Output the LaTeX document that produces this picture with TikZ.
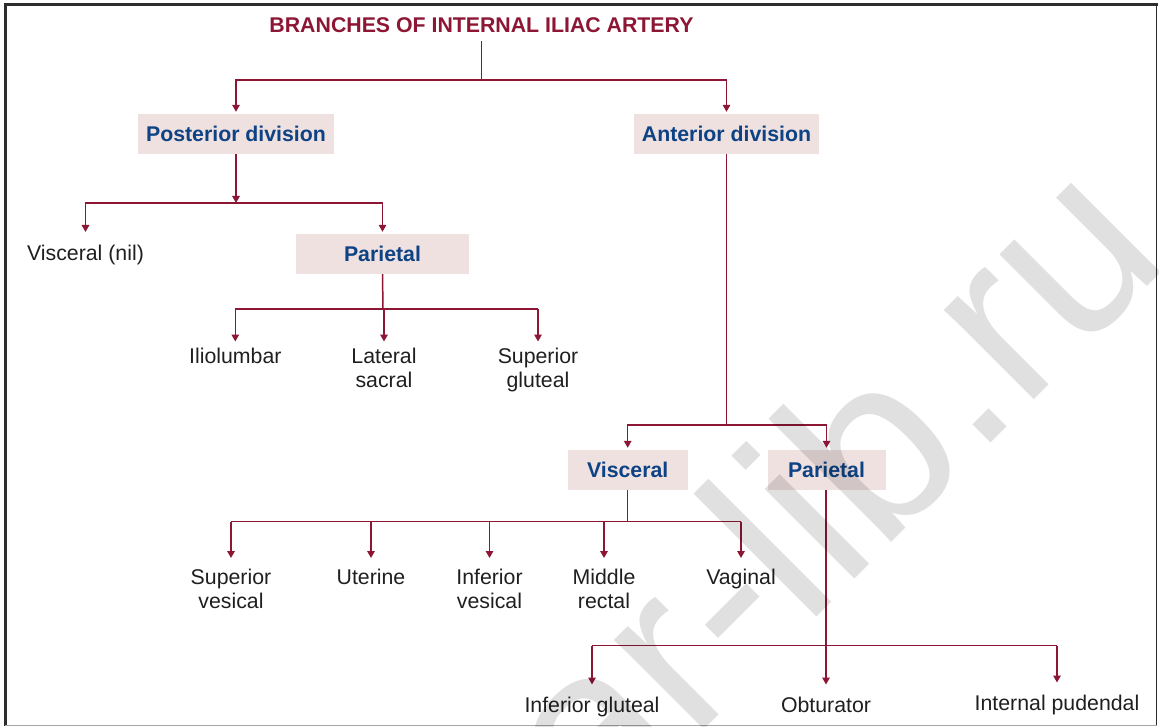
\documentclass[tikz,border=0pt]{standalone}
\usepackage{fontspec}
\setmainfont{Liberation Sans}
\usetikzlibrary{arrows.meta}
\definecolor{artred}{RGB}{140,22,52}
\definecolor{divblue}{RGB}{13,66,132}
\definecolor{divpink}{RGB}{240,225,225}
\definecolor{framegray}{RGB}{45,45,45}
\newcommand{\branchfont}{\fontsize{21.3}{23.5}\selectfont}
\tikzset{
  division/.style={fill=divpink,text=divblue,font=\branchfont\bfseries,inner sep=0pt,minimum height=40pt},
  branch/.style={text=black!88,font=\branchfont,align=center,inner sep=0pt,anchor=north},
  link/.style={draw=artred,line width=1.5pt},
  arw/.style={link,-{Triangle[length=7pt,width=7.5pt]},shorten >=#1},
  arw/.default=2pt
}
\begin{document}
\begin{tikzpicture}[x=1pt,y=-1pt]
\useasboundingbox (0,0) rectangle (1159,727);
% frame
\draw[framegray,line width=2.5pt] (5.3,726) -- (5.3,4.7) -- (1157.5,4.7);
\draw[framegray,line width=1.5pt] (1156.7,4.7) -- (1156.7,726);
\draw[black!35,line width=1pt] (5.3,725.5) -- (1156.7,725.5);
% title
\node[font=\branchfont\bfseries,text=artred,inner sep=0pt] (title) at (481.5,25) {BRANCHES OF INTERNAL ILIAC ARTERY};
% divisions
\node[division,minimum width=196pt] (post) at (236,134) {Posterior division};
\node[division,minimum width=185pt] (ant) at (726.5,134) {Anterior division};
\node[division,minimum width=173pt] (ppar) at (382.5,254) {Parietal};
\node[division,minimum width=120pt] (avis) at (627.7,470) {Visceral};
\node[division,minimum width=118pt] (apar) at (826.5,470) {Parietal};
% branches
\node[branch] (visnil) at (85.5,245) {Visceral (nil)};
\node[branch] (ilio) at (235.3,348) {Iliolumbar};
\node[branch] (latsac) at (384,348) {Lateral\\sacral};
\node[branch] (supglu) at (538,348) {Superior\\gluteal};
\node[branch] (supves) at (231,569) {Superior\\vesical};
\node[branch] (uter) at (371,569) {Uterine};
\node[branch] (infves) at (489.5,569) {Inferior\\vesical};
\node[branch] (midrec) at (604,569) {Middle\\rectal};
\node[branch] (vagin) at (741,569) {Vaginal};
\node[branch] (infglu) at (592,697) {Inferior gluteal};
\node[branch] (obtur) at (826,697) {Obturator};
\node[branch] (intpud) at (1057,695) {Internal pudendal};
% junctions
\coordinate (topbar) at (481.5,80);
\coordinate (postbar) at (236,203);
\coordinate (pparbar) at (383,309);
\coordinate (antbar) at (726.5,425);
\coordinate (avisbar) at (627.7,521.7);
\coordinate (aparbar) at (826,645.5);
% top
\draw[link] ([yshift=-8pt]title.south) -- (topbar);
\draw[arw] (topbar) -| (post.north);
\draw[arw] (topbar) -| (ant.north);
% posterior division
\draw[arw=0pt] (post.south) -- (postbar);
\draw[arw=13pt] (postbar) -| (visnil.north);
\draw[arw] (postbar) -| (ppar.north);
\draw[link] (ppar.south) -- (pparbar);
\draw[link] (pparbar -| ilio.north) -- (pparbar -| supglu.north);
\foreach \b in {ilio,latsac,supglu} \draw[arw=6.5pt] (pparbar -| \b.north) -- (\b.north);
% anterior division
\draw[link] (ant.south) -- (antbar);
\draw[arw] (antbar) -| (avis.north);
\draw[arw] (antbar) -| (apar.north);
\draw[link] (avis.south) -- (avisbar);
\draw[link] (avisbar -| supves.north) -- (avisbar -| vagin.north);
\foreach \b in {supves,uter,infves,midrec,vagin} \draw[arw=11pt] (avisbar -| \b.north) -- (\b.north);
\draw[arw=12.5pt] (apar.south -| obtur.north) -- (obtur.north);
\draw[link] (aparbar -| infglu.north) -- (aparbar -| intpud.north);
\foreach \b in {infglu,intpud} \draw[arw=12.5pt] (aparbar -| \b.north) -- (\b.north);
% watermark
\begin{scope}
\clip (0,0) rectangle (1159,727);
\node[font=\fontsize{240}{240}\selectfont,opacity=0.12,rotate=45,anchor=base west,inner sep=0pt] (wmark) at (598,836) {ar-lib.ru};
\end{scope}
\end{tikzpicture}
\end{document}
